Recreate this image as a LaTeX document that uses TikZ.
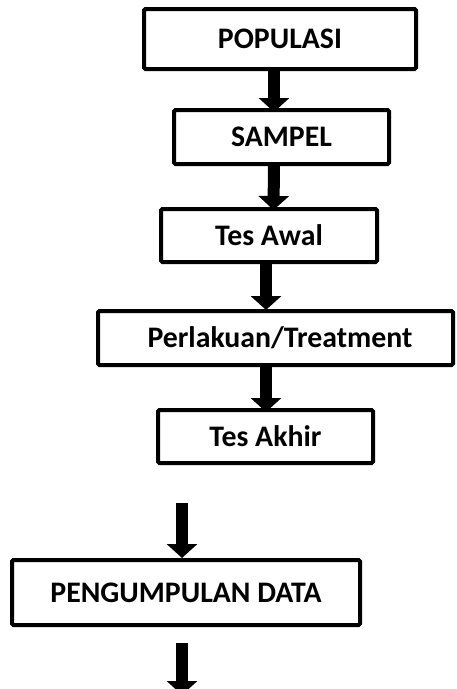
\documentclass[tikz,border=0pt]{standalone}
\usepackage{fontspec}
\setmainfont{Carlito}
\usetikzlibrary{arrows.meta,calc}

\begin{document}
\begin{tikzpicture}[x=1pt,y=1pt,
  procbox/.style={draw=black, line width=4pt, rounded corners=1.5pt, inner sep=0pt,
    font=\fontsize{29.8}{34}\selectfont\bfseries},
  flowarrow/.style={line width=12pt, -{Triangle[width=30pt,length=14pt]}}]
\useasboundingbox (0,0) rectangle (456,-689);

% Step 1
\node[procbox, minimum width=272pt, minimum height=60pt] (pop) at (280,-39) {POPULASI};
% Step 2
\node[procbox, minimum width=215pt, minimum height=54pt] (samp) at (281.5,-137) {SAMPEL};
% Step 3
\node[procbox, minimum width=216pt, minimum height=53pt] (awal) at (269,-235.5) {Tes Awal};
% Step 4
\node[procbox, minimum width=355pt, minimum height=54pt] (treat) at (275.5,-338) {\hspace*{9pt}Perlakuan/Treatment};
% Step 5
\node[procbox, minimum width=215pt, minimum height=53pt] (akhir) at (265.5,-436.5) {Tes Akhir};
% Step 6
\node[procbox, minimum width=348pt, minimum height=65pt] (data) at (186,-592.5) {PENGUMPULAN DATA};

% free ends
\coordinate (in6) at (182,-503);
\coordinate (out6) at (182,-643);
\coordinate (end6) at (182,-695);

% arrows
\draw[flowarrow] ($(pop.south)+(-6,0)$) -- ($(samp.north)+(-7.5,-4)$);
\draw[flowarrow] ($(samp.south)+(-7.5,0)$) -- ($(awal.north)+(4.5,-3)$);
\draw[flowarrow] ($(awal.south)+(-3,0)$) -- ($(treat.north)+(-9.5,-1)$);
\draw[flowarrow] ($(treat.south)+(-9.5,0)$) -- ($(akhir.north)+(0.5,-4)$);
\draw[flowarrow] (in6) -- (in6 |- data.north);
\draw[flowarrow] (out6) -- (end6);
\end{tikzpicture}
\end{document}
